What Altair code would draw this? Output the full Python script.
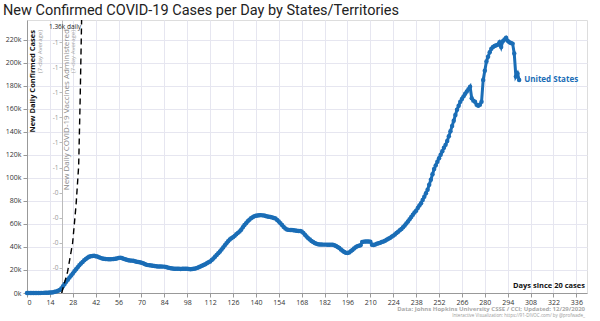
import altair as alt
import pandas as pd

# New daily confirmed cases (7-day average), thousands, day 0 .. 301 since 20 cases
cases_k = [
    0.01, 0.01, 0.02, 0.02, 0.03, 0.04, 0.05,
    0.06, 0.08, 0.10, 0.12, 0.15, 0.20, 0.25,
    0.35, 0.50, 0.70, 1.00, 1.40, 1.90, 2.60,
    4.0, 5.8, 7.8, 9.8, 11.6, 13.4, 15.2,
    17.0, 18.8, 20.6, 22.4, 24.0, 25.6, 27.0,
    28.4, 29.6, 30.6, 31.4, 31.9, 32.2, 32.3,
    32.0, 31.6, 31.0, 30.5, 30.0, 29.7, 29.5,
    29.4, 29.3, 29.3, 29.4, 29.5, 29.7, 30.0,
    30.5, 30.6, 30.3, 29.8, 29.3, 28.9, 28.5,
    28.3, 28.1, 28.0, 27.6, 27.2, 26.9, 26.6,
    26.3, 25.8, 25.2, 24.6, 24.2, 24.0, 23.8,
    23.6, 23.4, 23.2, 23.1, 23.0, 23.0, 22.9,
    22.9, 22.6, 22.2, 21.8, 21.4, 21.2, 21.0,
    21.0, 21.1, 21.0, 20.9, 21.0, 21.1, 21.0,
    21.0, 20.8, 20.7, 20.8, 21.0, 21.3, 21.8,
    22.4, 23.0, 23.6, 24.3, 25.0, 25.8, 26.6,
    27.4, 28.6, 30.0, 31.4, 33.0, 34.6, 36.0,
    37.8, 39.6, 41.4, 43.2, 45.0, 46.4, 47.6,
    48.5, 49.6, 51.0, 52.2, 53.4, 55.0, 57.0,
    59.0, 60.6, 62.2, 63.6, 64.8, 65.8, 66.6,
    67.0, 67.3, 67.5, 67.6, 67.4, 67.2, 66.8,
    66.4, 66.2, 66.0, 65.6, 65.2, 64.6, 63.4,
    62.0, 60.6, 59.0, 57.4, 56.0, 55.2, 54.8,
    54.6, 54.6, 54.4, 54.2, 54.0, 53.9, 53.8,
    53.3, 52.2, 50.6, 49.0, 47.6, 46.4, 45.2,
    44.2, 43.4, 42.8, 42.4, 42.2, 42.1, 42.0,
    42.0, 42.0, 41.9, 41.9, 42.0, 41.8, 41.4,
    40.8, 40.0, 39.0, 37.8, 36.6, 35.6, 35.0,
    34.8, 35.2, 36.2, 37.4, 38.6, 39.8, 40.6,
    41.0, 41.4, 44.2, 44.6, 44.7, 44.8, 44.8,
    44.6, 41.8, 41.6, 42.2, 42.8, 43.2, 43.6,
    44.2, 44.8, 45.4, 46.2, 47.0, 47.8, 48.8,
    49.8, 50.8, 52.0, 53.2, 54.4, 55.6, 57.0,
    58.6, 60.3, 62.0, 64.0, 66.0, 68.0, 69.8,
    71.5, 73.8, 76.0, 78.0, 80.8, 83.6, 86.6,
    89.6, 94.0, 98.3, 103.0, 107.6, 110.8, 114.0,
    117.0, 120.0, 123.0, 126.0, 128.6, 132.0, 136.0,
    140.5, 145.0, 149.5, 154.5, 159.0, 162.5, 166.0,
    168.5, 170.7, 173.0, 175.0, 177.0, 179.0, 169.0,
    167.0, 166.0, 163.5, 162.6, 163.5, 166.0, 185.0,
    193.0, 201.0, 205.0, 209.0, 212.0, 213.6, 214.5,
    215.0, 215.6, 217.7, 213.6, 218.5, 220.0, 221.5,
    219.0, 217.7, 217.0, 216.5, 208.0, 188.0, 190.5,
    185.0,
]
days = list(range(len(cases_k)))

# New daily vaccines administered (7-day average)
vacc_days = [21.2, 24.8, 27.9, 30.0, 31.6, 32.5, 33.4]
vacc_vals = [0, 105, 249, 438, 633, 961, 1360]

x_ticks = list(range(0, 337, 14))
y_ticks = list(range(0, 220001, 20000))
vacc_ticks = [125, 250, 375, 500, 625, 750, 875, 1000, 1125, 1250]

cases_df = pd.DataFrame({"day": days, "cases": [v * 1000 for v in cases_k]})
vacc_df = pd.DataFrame({"day": vacc_days, "vaccines": vacc_vals})
last_df = cases_df.tail(1).assign(label="United States")

BLUE = "#1a6db6"
FONT = "Open Sans"
GRID = "#e6e6f0"

x_enc = alt.X(
    "day:Q",
    scale=alt.Scale(domain=[0, 342.5], nice=False, zero=False),
    axis=alt.Axis(values=x_ticks, title=None, labelFontSize=7, labelColor="#333",
                  labelFont=FONT, domainColor="#999", tickColor="#999", tickSize=4,
                  gridColor=GRID, labelPadding=1),
)
y_enc = alt.Y(
    "cases:Q",
    scale=alt.Scale(domain=[0, 237000], nice=False),
    axis=alt.Axis(values=y_ticks, format="~s", title=None, labelFontSize=7,
                  labelColor="#333", labelFont=FONT, domainColor="#999",
                  tickColor="#999", tickSize=4, gridColor=GRID, labelPadding=2),
)

base = alt.Chart(cases_df).encode(x=x_enc, y=y_enc)
line = base.mark_line(color=BLUE, strokeWidth=3)
pts = base.mark_circle(color=BLUE, size=20, opacity=1)
label = alt.Chart(last_df).mark_text(
    align="left", baseline="middle", dx=5, fontWeight="bold", fontSize=8,
    color=BLUE, font=FONT
).encode(x=x_enc, y=y_enc, text="label:N")
cases_layer = alt.layer(line, pts, label)

vacc = alt.Chart(vacc_df).mark_line(
    color="black", strokeDash=[6, 4], strokeWidth=1.4, clip=True
).encode(
    x=x_enc,
    y=alt.Y("vaccines:Q", scale=alt.Scale(domain=[0, 1360], nice=False),
            axis=alt.Axis(orient="left", offset=-35, values=vacc_ticks,
                          labelExpr="datum.value < 600 ? '-0' : '-1'",
                          title=None, grid=False, domainColor="#bbb",
                          tickColor="#bbb", labelColor="#999", labelFontSize=6.5,
                          labelFont=FONT, tickSize=3, labelPadding=1)),
)

one = pd.DataFrame({"k": [0]})


def note(text, x, y, size, color, weight="normal", angle=0, align="left",
         baseline="middle", font=FONT):
    return alt.Chart(one).mark_text(
        text=text, fontSize=size, color=color, fontWeight=weight, angle=angle,
        align=align, baseline=baseline, font=font
    ).encode(x=alt.value(x), y=alt.value(y))


notes = [
    note("New Daily Confirmed Cases", 5.5, 10, 7.5, "#111", "bold", 270, "right"),
    note("(7-day Average)", 13, 10, 6, "#999", "normal", 270, "right"),
    note("New Daily COVID-19 Vaccines Administered", 39.5, 9, 8, "#888", "normal", 270, "right"),
    note("(7-day Average)", 46, 10, 6, "#aaa", "normal", 270, "right"),
    note("1.36k daily", 38, 7, 6.5, "#222", "normal", 0, "center"),
    note("Days since 20 cases", 558, 266, 7.5, "#111", "bold", 0, "right"),
    note("Data: Johns Hopkins University CSSE / CCI; Updated: 12/29/2020", 558, 289,
         6, "#aaa", "bold", 0, "right"),
    note("Interactive Visualization: https://91-DIVOC.com/ by @profwade_", 558, 296,
         4.5, "#999", "normal", 0, "right"),
]

chart = alt.layer(cases_layer, vacc, *notes).resolve_scale(y="independent").properties(
    width=560,
    height=273,
    autosize=alt.AutoSizeParams(type="none"),
    padding={"left": 27, "top": 20, "right": 13, "bottom": 28},
    title=alt.TitleParams(
        "New Confirmed COVID-19 Cases per Day by States/Territories",
        anchor="start", frame="group", dx=-24, dy=3, fontSize=14.5, font="Roboto",
        fontWeight="normal", color="#222", offset=5,
    ),
).configure_view(stroke=GRID, fill="#fcfbfe").configure(background="white")

chart.save("out.html", embed_options={"renderer": "svg", "actions": False})
